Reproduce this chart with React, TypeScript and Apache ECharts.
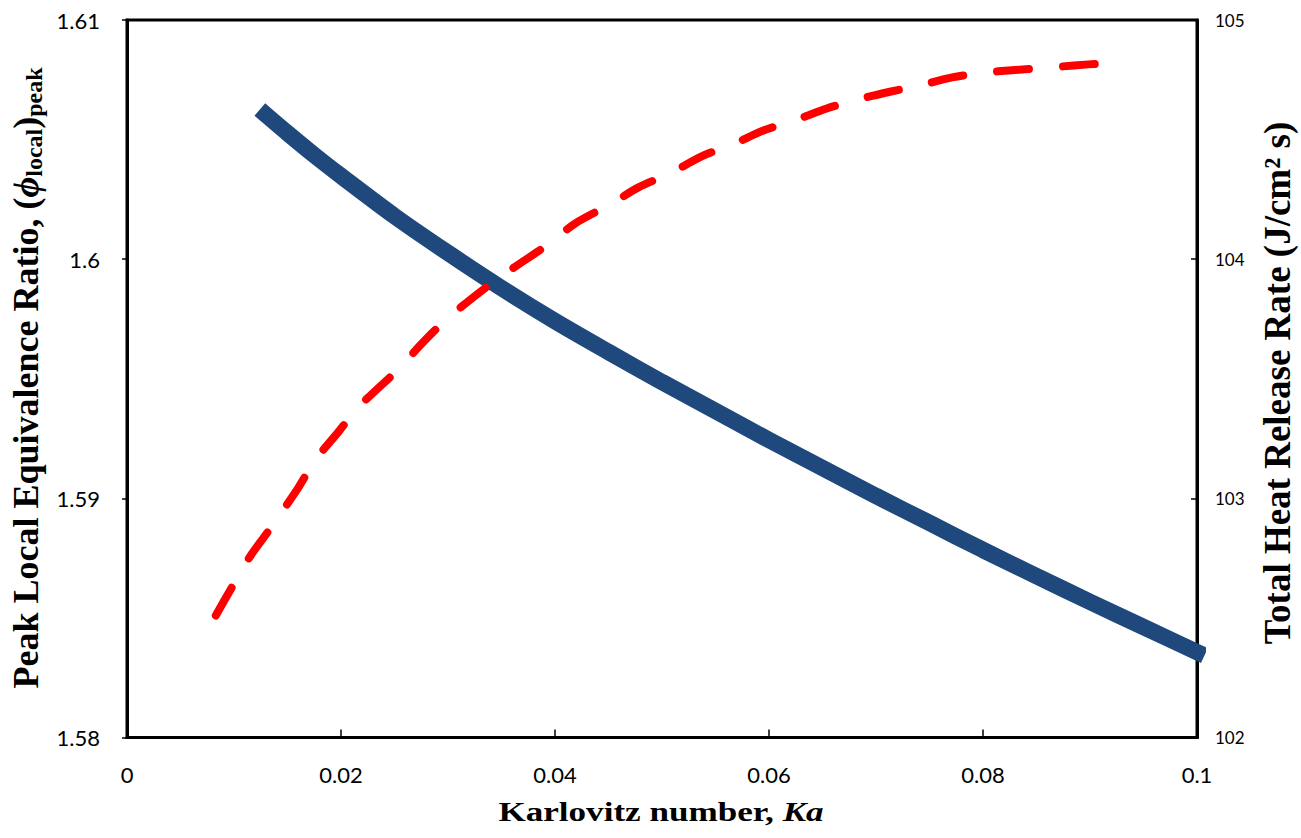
import React, { useEffect, useRef } from "react";
import * as echarts from "echarts";

// Blue series: peak local equivalence ratio vs Karlovitz number (left axis)
const kaPhi = [0.013, 0.015, 0.0175, 0.02, 0.025, 0.03, 0.035, 0.04, 0.045, 0.05, 0.055, 0.06, 0.065, 0.07, 0.075, 0.08, 0.085, 0.09, 0.095, 0.1];
const phiPeak = [1.60603, 1.60527, 1.60435, 1.60348, 1.6018, 1.60026, 1.59879, 1.59741, 1.59612, 1.59486, 1.59365, 1.59244, 1.59127, 1.5901, 1.58897, 1.58784, 1.58675, 1.58567, 1.58462, 1.58357];

// Red dashed series: total heat release rate vs Karlovitz number (right axis)
const kaHeat = [0.0083, 0.0097, 0.0114, 0.013, 0.0158, 0.0176, 0.0198, 0.0216, 0.0256, 0.0274, 0.0299, 0.0335, 0.036, 0.0393, 0.0419, 0.0452, 0.0478, 0.0508, 0.0537, 0.0566, 0.0596, 0.0624, 0.0654, 0.0685, 0.0713, 0.0744, 0.0771, 0.0801, 0.0827, 0.0859, 0.0885, 0.0916];
const heatRate = [102.51, 102.62, 102.75, 102.85, 103.03, 103.16, 103.28, 103.38, 103.55, 103.64, 103.75, 103.88, 103.96, 104.06, 104.15, 104.23, 104.3, 104.36, 104.43, 104.48, 104.54, 104.58, 104.63, 104.67, 104.7, 104.73, 104.76, 104.78, 104.79, 104.8, 104.81, 104.82];

// Axis ranges / ticks
const xRange = [0, 0.1, 0.02];
const leftRange = [1.58, 1.61, 0.01];
const rightRange = [102, 105, 1];

const xTitle = "Karlovitz number, ";
const xTitleItalic = "Ka";
const leftTitle = "Peak Local Equivalence Ratio, (";
const rightTitle = "Total Heat Release Rate (J/cm² s)";

const TICK_FONT = "Lato, 'Open Sans', sans-serif";
const SERIF = "'Liberation Serif', 'Times New Roman', serif";

const fmt = (v: number) => String(parseFloat(v.toFixed(3)));

export default function App() {
  const ref = useRef<HTMLDivElement>(null);
  useEffect(() => {
    if (!ref.current) return;
    const chart = echarts.init(ref.current, undefined, { renderer: "svg" });
    const axisLine = { show: true, lineStyle: { color: "#000", width: 3 } };
    chart.setOption({
      animation: false,
      backgroundColor: "#fff",
      grid: {
        left: 127,
        right: 104,
        top: 20,
        bottom: 100.5,
        show: true,
        borderColor: "#000",
        borderWidth: 3,
        backgroundColor: "transparent",
      },
      xAxis: {
        type: "value",
        min: xRange[0],
        max: xRange[1],
        interval: xRange[2],
        axisLine,
        axisTick: { show: true, inside: true, length: 8, lineStyle: { color: "#000", width: 1.5 } },
        axisLabel: { color: "#000", fontFamily: TICK_FONT, fontSize: 22, margin: 26, formatter: fmt },
        splitLine: { show: false },
      },
      yAxis: [
        {
          type: "value",
          position: "left",
          min: leftRange[0],
          max: leftRange[1],
          interval: leftRange[2],
          axisLine,
          axisTick: { show: true, inside: false, length: 5, lineStyle: { color: "#000", width: 1.5 } },
          axisLabel: { color: "#000", fontFamily: TICK_FONT, fontSize: 22, margin: 27, formatter: fmt },
          splitLine: { show: false },
        },
        {
          type: "value",
          position: "right",
          min: rightRange[0],
          max: rightRange[1],
          interval: rightRange[2],
          axisLine,
          axisTick: { show: true, inside: true, length: 6, lineStyle: { color: "#000", width: 1.5 } },
          axisLabel: { color: "#000", fontFamily: TICK_FONT, fontSize: 17, margin: 18, formatter: fmt },
          splitLine: { show: false },
        },
      ],
      series: [
        {
          type: "line",
          yAxisIndex: 0,
          data: kaPhi.map((k, i) => [k, phiPeak[i]]),
          smooth: 0.3,
          showSymbol: false,
          lineStyle: { color: "#1F497D", width: 16.5, cap: "square" },
          z: 2,
        },
        {
          type: "line",
          yAxisIndex: 1,
          data: kaHeat.map((k, i) => [k, heatRate[i]]),
          smooth: 0.3,
          showSymbol: false,
          lineStyle: { color: "#FF0000", width: 8, type: [32, 34], cap: "round", join: "round" },
          z: 3,
        },
      ],
      graphic: [
        {
          type: "text",
          x: 661,
          y: 812,
          scaleX: 1.3,
          style: {
            text: xTitle + "{i|" + xTitleItalic + "}",
            fontFamily: SERIF,
            fontWeight: "bold",
            fontSize: 27,
            fill: "#000",
            align: "center",
            verticalAlign: "middle",
            rich: {
              i: { fontFamily: SERIF, fontWeight: "bold", fontStyle: "italic", fontSize: 27, fill: "#000" },
            },
          },
        },
        {
          type: "text",
          x: 26,
          y: 378,
          rotation: Math.PI / 2,
          style: {
            text: "{b|" + leftTitle + "}{phi|ϕ}{sub|local}{b|)}{sub|peak}",
            fontFamily: SERIF,
            fontWeight: "bold",
            fontSize: 36,
            fill: "#000",
            align: "center",
            verticalAlign: "middle",
            rich: {
              b: { fontFamily: SERIF, fontWeight: "bold", fontSize: 36, lineHeight: 40, fill: "#000" },
              phi: { fontFamily: SERIF, fontWeight: "bold", fontStyle: "italic", fontSize: 36, lineHeight: 40, fill: "#000" },
              sub: { fontFamily: SERIF, fontWeight: "bold", fontSize: 24, lineHeight: 24, verticalAlign: "bottom", fill: "#000" },
            },
          },
        },
        {
          type: "text",
          x: 1277.5,
          y: 383,
          rotation: Math.PI / 2,
          style: {
            text: rightTitle,
            fontFamily: SERIF,
            fontWeight: "bold",
            fontSize: 37,
            fill: "#000",
            align: "center",
            verticalAlign: "middle",
          },
        },
      ],
    });
    return () => chart.dispose();
  }, []);
  return <div ref={ref} style={{ position: "absolute", left: 0, top: 0, width: 1301, height: 838 }} />;
}
